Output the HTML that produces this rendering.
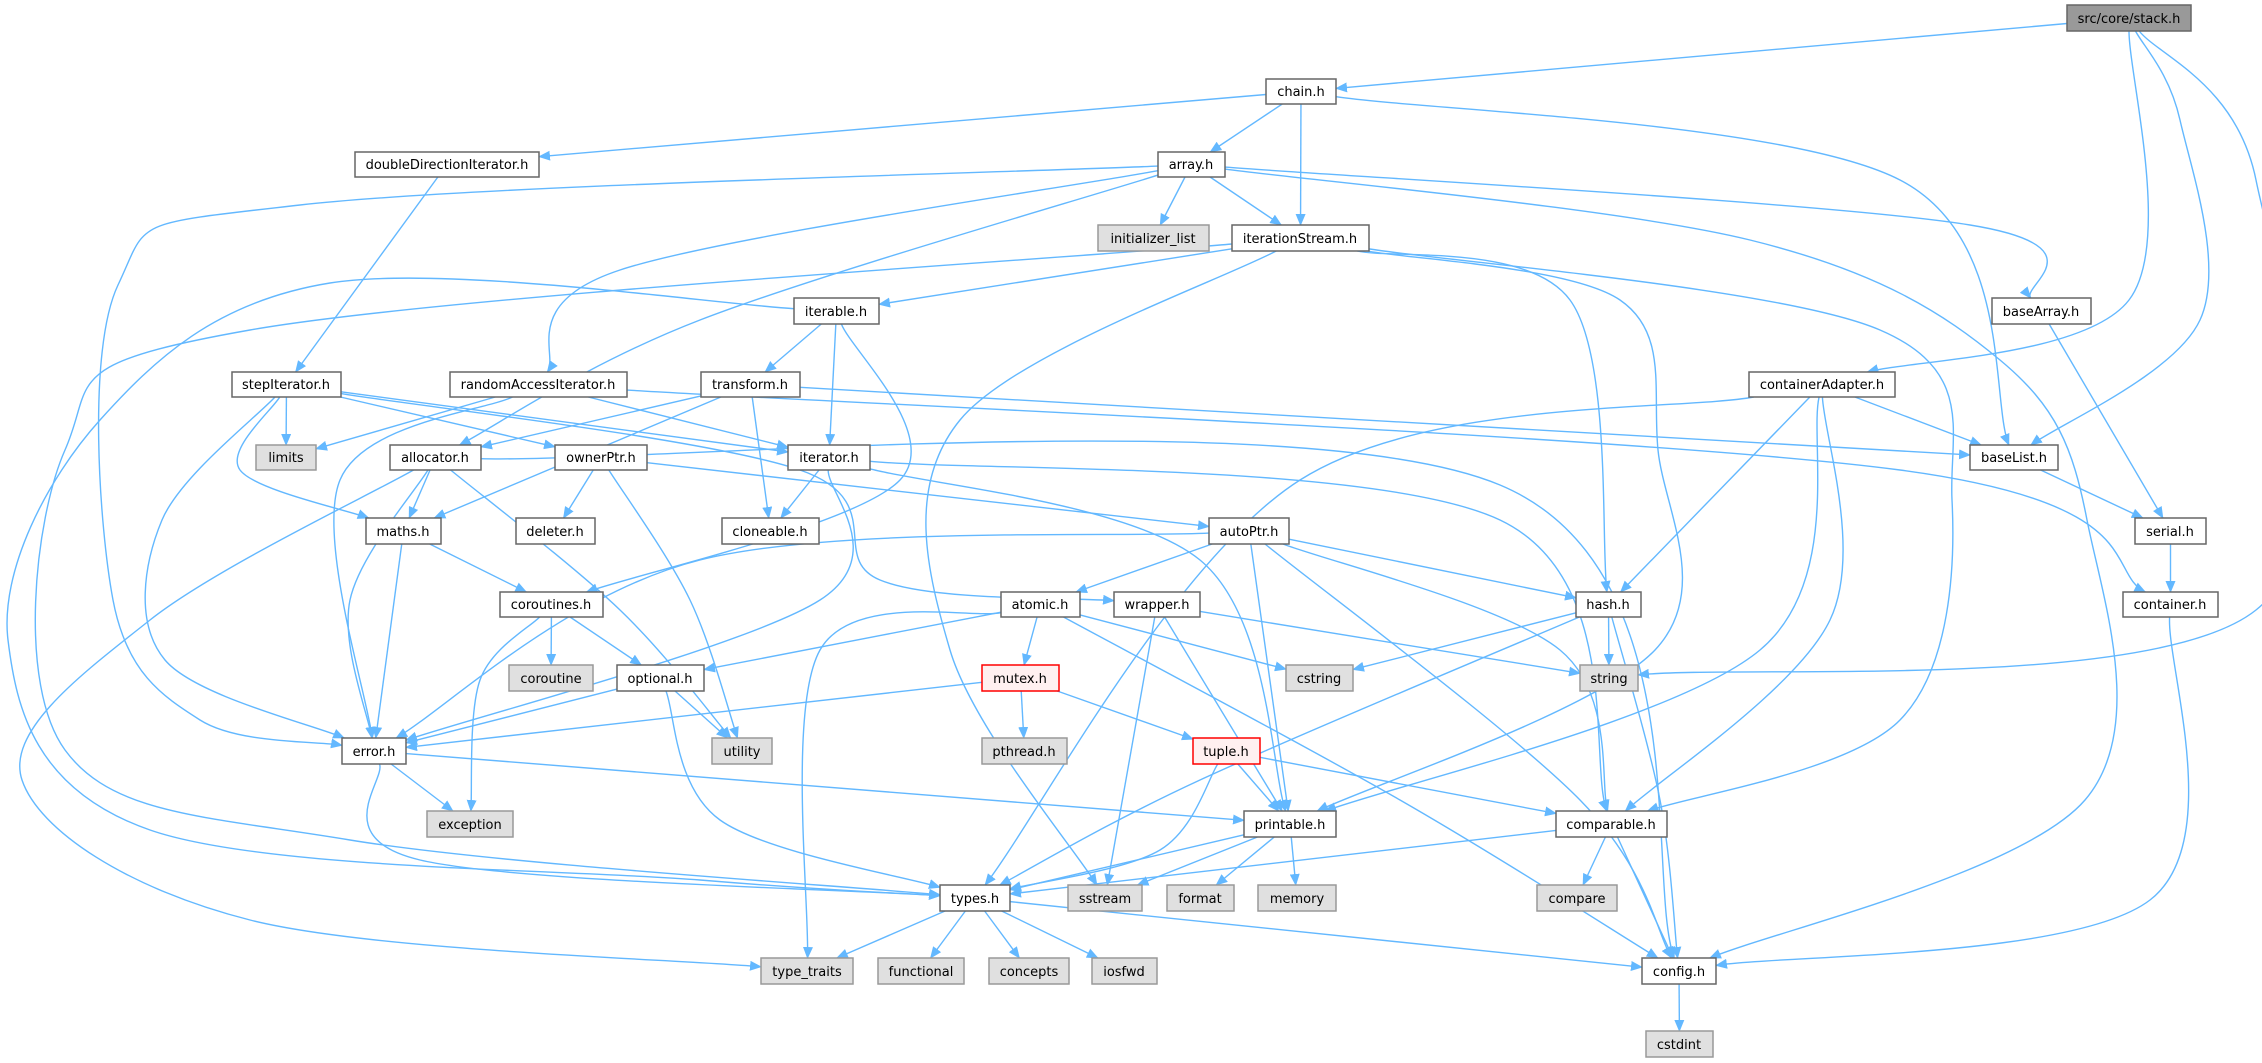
<!DOCTYPE html>
<html><head><meta charset="utf-8">
<style>
html,body{margin:0;padding:0;background:#fff;}
svg{display:block;}
text{font-family:"DejaVu Sans","Liberation Sans",sans-serif;font-size:13px;fill:#000;}
</style></head>
<body>
<svg id="g" width="2262" height="1063" viewBox="0 0 2262 1063" xmlns="http://www.w3.org/2000/svg">
<defs>
<marker id="a" markerWidth="12" markerHeight="10" refX="11" refY="5" orient="auto" markerUnits="userSpaceOnUse">
<path d="M0,0 L12,5 L0,10 z" fill="#63b8ff"/></marker>
</defs>
<g id="edges" fill="none" stroke="#63b8ff" stroke-width="1.4"></g>
<g id="nodes">
<rect x="2067" y="5" width="124" height="26" fill="#999" stroke="#666" stroke-width="1.5"/><text x="2129" y="23" text-anchor="middle">src/core/stack.h</text>
<rect x="1266" y="79" width="70" height="25" fill="#fff" stroke="#666" stroke-width="1.5"/><text x="1301" y="96" text-anchor="middle">chain.h</text>
<rect x="355" y="152" width="184" height="25" fill="#fff" stroke="#666" stroke-width="1.5"/><text x="447" y="169" text-anchor="middle">doubleDirectionIterator.h</text>
<rect x="1158" y="152" width="67" height="25" fill="#fff" stroke="#666" stroke-width="1.5"/><text x="1191" y="169" text-anchor="middle">array.h</text>
<rect x="1098" y="225" width="111" height="26" fill="#e0e0e0" stroke="#999" stroke-width="1.5"/><text x="1153" y="243" text-anchor="middle">initializer_list</text>
<rect x="1232" y="225" width="137" height="26" fill="#fff" stroke="#666" stroke-width="1.5"/><text x="1300" y="243" text-anchor="middle">iterationStream.h</text>
<rect x="794" y="298" width="85" height="26" fill="#fff" stroke="#666" stroke-width="1.5"/><text x="836" y="316" text-anchor="middle">iterable.h</text>
<rect x="1992" y="298" width="99" height="26" fill="#fff" stroke="#666" stroke-width="1.5"/><text x="2041" y="316" text-anchor="middle">baseArray.h</text>
<rect x="232" y="372" width="109" height="25" fill="#fff" stroke="#666" stroke-width="1.5"/><text x="286" y="389" text-anchor="middle">stepIterator.h</text>
<rect x="450" y="372" width="177" height="25" fill="#fff" stroke="#666" stroke-width="1.5"/><text x="538" y="389" text-anchor="middle">randomAccessIterator.h</text>
<rect x="701" y="372" width="99" height="25" fill="#fff" stroke="#666" stroke-width="1.5"/><text x="750" y="389" text-anchor="middle">transform.h</text>
<rect x="1749" y="372" width="146" height="25" fill="#fff" stroke="#666" stroke-width="1.5"/><text x="1822" y="389" text-anchor="middle">containerAdapter.h</text>
<rect x="256" y="445" width="60" height="25" fill="#e0e0e0" stroke="#999" stroke-width="1.5"/><text x="286" y="462" text-anchor="middle">limits</text>
<rect x="390" y="445" width="91" height="25" fill="#fff" stroke="#666" stroke-width="1.5"/><text x="435" y="462" text-anchor="middle">allocator.h</text>
<rect x="555" y="445" width="92" height="25" fill="#fff" stroke="#666" stroke-width="1.5"/><text x="601" y="462" text-anchor="middle">ownerPtr.h</text>
<rect x="788" y="445" width="82" height="25" fill="#fff" stroke="#666" stroke-width="1.5"/><text x="829" y="462" text-anchor="middle">iterator.h</text>
<rect x="1970" y="445" width="88" height="25" fill="#fff" stroke="#666" stroke-width="1.5"/><text x="2014" y="462" text-anchor="middle">baseList.h</text>
<rect x="366" y="518" width="75" height="26" fill="#fff" stroke="#666" stroke-width="1.5"/><text x="403" y="536" text-anchor="middle">maths.h</text>
<rect x="516" y="518" width="79" height="26" fill="#fff" stroke="#666" stroke-width="1.5"/><text x="555" y="536" text-anchor="middle">deleter.h</text>
<rect x="722" y="518" width="97" height="26" fill="#fff" stroke="#666" stroke-width="1.5"/><text x="770" y="536" text-anchor="middle">cloneable.h</text>
<rect x="1209" y="518" width="80" height="26" fill="#fff" stroke="#666" stroke-width="1.5"/><text x="1249" y="536" text-anchor="middle">autoPtr.h</text>
<rect x="2135" y="518" width="71" height="26" fill="#fff" stroke="#666" stroke-width="1.5"/><text x="2170" y="536" text-anchor="middle">serial.h</text>
<rect x="500" y="592" width="103" height="25" fill="#fff" stroke="#666" stroke-width="1.5"/><text x="551" y="609" text-anchor="middle">coroutines.h</text>
<rect x="1001" y="592" width="79" height="25" fill="#fff" stroke="#666" stroke-width="1.5"/><text x="1040" y="609" text-anchor="middle">atomic.h</text>
<rect x="1114" y="592" width="86" height="25" fill="#fff" stroke="#666" stroke-width="1.5"/><text x="1157" y="609" text-anchor="middle">wrapper.h</text>
<rect x="1576" y="592" width="65" height="25" fill="#fff" stroke="#666" stroke-width="1.5"/><text x="1608" y="609" text-anchor="middle">hash.h</text>
<rect x="2123" y="592" width="95" height="25" fill="#fff" stroke="#666" stroke-width="1.5"/><text x="2170" y="609" text-anchor="middle">container.h</text>
<rect x="509" y="665" width="84" height="26" fill="#e0e0e0" stroke="#999" stroke-width="1.5"/><text x="551" y="683" text-anchor="middle">coroutine</text>
<rect x="617" y="665" width="87" height="26" fill="#fff" stroke="#666" stroke-width="1.5"/><text x="660" y="683" text-anchor="middle">optional.h</text>
<rect x="982" y="665" width="77" height="26" fill="#fff0f0" stroke="#ff0000" stroke-width="1.5"/><text x="1020" y="683" text-anchor="middle">mutex.h</text>
<rect x="1286" y="665" width="67" height="26" fill="#e0e0e0" stroke="#999" stroke-width="1.5"/><text x="1319" y="683" text-anchor="middle">cstring</text>
<rect x="1580" y="665" width="58" height="26" fill="#e0e0e0" stroke="#999" stroke-width="1.5"/><text x="1609" y="683" text-anchor="middle">string</text>
<rect x="342" y="738" width="64" height="26" fill="#fff" stroke="#666" stroke-width="1.5"/><text x="374" y="756" text-anchor="middle">error.h</text>
<rect x="712" y="738" width="60" height="26" fill="#e0e0e0" stroke="#999" stroke-width="1.5"/><text x="742" y="756" text-anchor="middle">utility</text>
<rect x="982" y="738" width="85" height="26" fill="#e0e0e0" stroke="#999" stroke-width="1.5"/><text x="1024" y="756" text-anchor="middle">pthread.h</text>
<rect x="1193" y="738" width="67" height="26" fill="#fff0f0" stroke="#ff0000" stroke-width="1.5"/><text x="1226" y="756" text-anchor="middle">tuple.h</text>
<rect x="427" y="811" width="86" height="26" fill="#e0e0e0" stroke="#999" stroke-width="1.5"/><text x="470" y="829" text-anchor="middle">exception</text>
<rect x="1244" y="811" width="92" height="26" fill="#fff" stroke="#666" stroke-width="1.5"/><text x="1290" y="829" text-anchor="middle">printable.h</text>
<rect x="1556" y="811" width="111" height="26" fill="#fff" stroke="#666" stroke-width="1.5"/><text x="1611" y="829" text-anchor="middle">comparable.h</text>
<rect x="940" y="885" width="70" height="26" fill="#fff" stroke="#666" stroke-width="1.5"/><text x="975" y="903" text-anchor="middle">types.h</text>
<rect x="1068" y="885" width="74" height="26" fill="#e0e0e0" stroke="#999" stroke-width="1.5"/><text x="1105" y="903" text-anchor="middle">sstream</text>
<rect x="1167" y="885" width="67" height="26" fill="#e0e0e0" stroke="#999" stroke-width="1.5"/><text x="1200" y="903" text-anchor="middle">format</text>
<rect x="1258" y="885" width="78" height="26" fill="#e0e0e0" stroke="#999" stroke-width="1.5"/><text x="1297" y="903" text-anchor="middle">memory</text>
<rect x="1537" y="885" width="80" height="26" fill="#e0e0e0" stroke="#999" stroke-width="1.5"/><text x="1577" y="903" text-anchor="middle">compare</text>
<rect x="761" y="958" width="92" height="26" fill="#e0e0e0" stroke="#999" stroke-width="1.5"/><text x="807" y="976" text-anchor="middle">type_traits</text>
<rect x="878" y="958" width="86" height="26" fill="#e0e0e0" stroke="#999" stroke-width="1.5"/><text x="921" y="976" text-anchor="middle">functional</text>
<rect x="989" y="958" width="80" height="26" fill="#e0e0e0" stroke="#999" stroke-width="1.5"/><text x="1029" y="976" text-anchor="middle">concepts</text>
<rect x="1092" y="958" width="65" height="26" fill="#e0e0e0" stroke="#999" stroke-width="1.5"/><text x="1124" y="976" text-anchor="middle">iosfwd</text>
<rect x="1642" y="958" width="74" height="26" fill="#fff" stroke="#666" stroke-width="1.5"/><text x="1679" y="976" text-anchor="middle">config.h</text>
<rect x="1646" y="1031" width="67" height="26" fill="#e0e0e0" stroke="#999" stroke-width="1.5"/><text x="1679" y="1049" text-anchor="middle">cstdint</text>
</g>
</svg>
<script>
var N={};
document.querySelectorAll('#nodes rect').forEach(function(r){
  var t=r.nextElementSibling.textContent;
  N[t]={x:+r.getAttribute('x'),y:+r.getAttribute('y'),w:+r.getAttribute('width'),h:+r.getAttribute('height')};
});
function c(n){return [n.x+n.w/2,n.y+n.h/2];}
function clip(n,p){
  var cx=n.x+n.w/2,cy=n.y+n.h/2,dx=p[0]-cx,dy=p[1]-cy;
  var sx=dx?(n.w/2)/Math.abs(dx):1e9,sy=dy?(n.h/2)/Math.abs(dy):1e9,s=Math.min(sx,sy);
  return [cx+dx*s,cy+dy*s];
}
var E=[
["src/core/stack.h","chain.h"],["src/core/stack.h","containerAdapter.h",[[2129,300]]],["src/core/stack.h","baseList.h",[[2180,120],[2200,320]]],["src/core/stack.h","string",[[2256,180],[2256,610]]],
["chain.h","doubleDirectionIterator.h"],["chain.h","array.h"],["chain.h","iterationStream.h"],["chain.h","baseList.h",[[1900,180]]],
["doubleDirectionIterator.h","stepIterator.h"],
["array.h","initializer_list"],["array.h","iterationStream.h"],["array.h","baseArray.h",[[1970,225]]],["array.h","randomAccessIterator.h",[[620,270]]],
["array.h","allocator.h",[[700,320]]],["array.h","error.h",[[300,205],[118,285],[113,600],[200,720]]],["array.h","config.h",[[1750,240],[2000,360],[2087,520],[2085,800]]],
["iterationStream.h","iterable.h"],["iterationStream.h","types.h",[[250,330],[65,450],[65,750],[350,840]]],["iterationStream.h","sstream",[[960,420],[950,650]]],
["iterationStream.h","hash.h",[[1570,300]]],["iterationStream.h","printable.h",[[1620,300],[1658,450],[1655,650]]],["iterationStream.h","comparable.h",[[1880,330],[1952,500],[1900,720]]],
["iterable.h","transform.h"],["iterable.h","iterator.h"],["iterable.h","coroutines.h",[[900,480]]],["iterable.h","types.h",[[330,283],[100,420],[8,640],[150,830],[700,880]]],
["baseArray.h","serial.h"],
["stepIterator.h","limits"],["stepIterator.h","maths.h",[[240,470]]],["stepIterator.h","error.h",[[162,520],[165,660]]],["stepIterator.h","iterator.h"],["stepIterator.h","ownerPtr.h"],["stepIterator.h","wrapper.h",[[800,470],[880,580]]],
["randomAccessIterator.h","limits"],["randomAccessIterator.h","iterator.h"],["randomAccessIterator.h","error.h",[[340,480]]],["randomAccessIterator.h","container.h",[[1900,470]]],
["transform.h","cloneable.h"],["transform.h","maths.h"],["transform.h","allocator.h"],["transform.h","baseList.h"],
["containerAdapter.h","types.h",[[1300,480]]],["containerAdapter.h","hash.h"],["containerAdapter.h","printable.h",[[1760,650]]],["containerAdapter.h","comparable.h",[[1830,620]]],["containerAdapter.h","baseList.h"],
["baseList.h","serial.h"],["serial.h","container.h"],["container.h","config.h",[[2150,900]]],
["allocator.h","maths.h"],["allocator.h","error.h",[[350,600]]],["allocator.h","utility",[[620,610]]],["allocator.h","type_traits",[[150,620],[22,780],[250,920]]],["allocator.h","config.h",[[1500,485]]],
["ownerPtr.h","deleter.h"],["ownerPtr.h","utility",[[690,600]]],["ownerPtr.h","autoPtr.h"],
["iterator.h","cloneable.h"],["iterator.h","error.h",[[820,600]]],["iterator.h","printable.h",[[1200,560]]],["iterator.h","comparable.h",[[1500,520]]],
["autoPtr.h","atomic.h"],["autoPtr.h","hash.h"],["autoPtr.h","error.h",[[700,560]]],["autoPtr.h","printable.h"],["autoPtr.h","comparable.h",[[1560,650]]],["autoPtr.h","config.h",[[1580,800]]],
["maths.h","coroutines.h"],["maths.h","error.h"],
["coroutines.h","coroutine"],["coroutines.h","optional.h"],["coroutines.h","exception",[[480,680]]],
["atomic.h","mutex.h"],["atomic.h","optional.h"],["atomic.h","cstring"],["atomic.h","type_traits",[[820,650]]],["atomic.h","config.h",[[1400,800]]],
["wrapper.h","sstream"],["wrapper.h","printable.h"],["wrapper.h","string"],
["hash.h","string"],["hash.h","cstring"],["hash.h","types.h",[[1200,780]]],["hash.h","config.h",[[1660,800]]],
["optional.h","error.h"],["optional.h","utility"],["optional.h","types.h",[[720,820]]],
["mutex.h","pthread.h"],["mutex.h","tuple.h"],["mutex.h","error.h"],
["tuple.h","printable.h"],["tuple.h","types.h",[[1160,850]]],["tuple.h","comparable.h"],
["error.h","exception"],["error.h","types.h",[[420,860]]],["error.h","printable.h"],
["printable.h","types.h"],["printable.h","sstream"],["printable.h","format"],["printable.h","memory"],
["comparable.h","compare"],["comparable.h","config.h"],["comparable.h","types.h"],
["types.h","type_traits"],["types.h","functional"],["types.h","concepts"],["types.h","iosfwd"],["types.h","config.h"],
["config.h","cstdint"]
];
var g=document.getElementById('edges'),ns='http://www.w3.org/2000/svg';
E.forEach(function(e){
  var s=N[e[0]],t=N[e[1]];if(!s||!t)return;
  var v=e[2]||[];
  var p0=clip(s,v.length?v[0]:c(t)),pn=clip(t,v.length?v[v.length-1]:c(s));
  var pts=[p0].concat(v).concat([pn]);
  var d='M'+pts[0][0]+','+pts[0][1];
  if(pts.length==2){d+=' L'+pts[1][0]+','+pts[1][1];}
  else{
    for(var i=0;i<pts.length-1;i++){
      var a=pts[i-1]||pts[i],b=pts[i],cc=pts[i+1],dd=pts[i+2]||cc;
      var c1=[b[0]+(cc[0]-a[0])/6,b[1]+(cc[1]-a[1])/6],c2=[cc[0]-(dd[0]-b[0])/6,cc[1]-(dd[1]-b[1])/6];
      d+=' C'+c1[0]+','+c1[1]+' '+c2[0]+','+c2[1]+' '+cc[0]+','+cc[1];
    }
  }
  var p=document.createElementNS(ns,'path');p.setAttribute('d',d);p.setAttribute('marker-end','url(#a)');g.appendChild(p);
});
</script>
</body></html>
